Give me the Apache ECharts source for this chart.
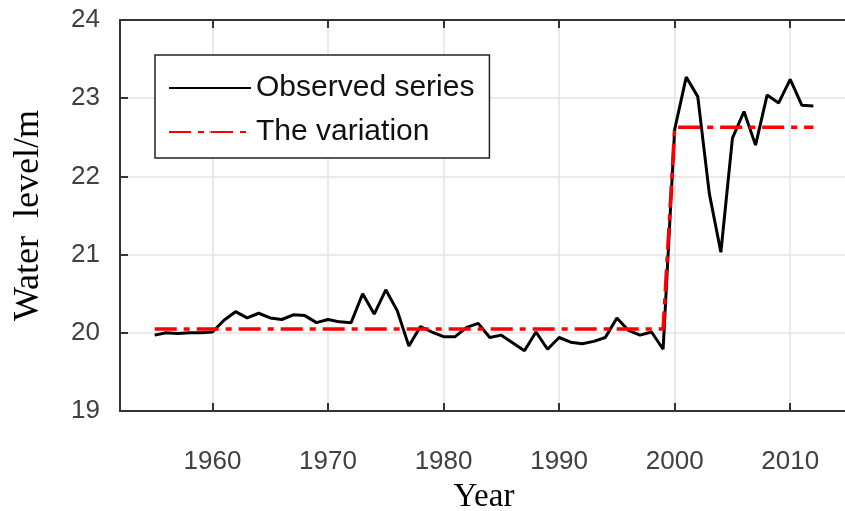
<!DOCTYPE html>
<html>
<head>
<meta charset="utf-8">
<script src="https://cdn.jsdelivr.net/npm/echarts@6/dist/echarts.min.js"></script>
<style>html,body{margin:0;padding:0;background:#fff}#c{width:845px;height:511px}</style>
</head>
<body>
<div id="c"></div>
<script>
const years = [1955,1956,1957,1958,1959,1960,1961,1962,1963,1964,1965,1966,1967,1968,1969,1970,1971,1972,1973,1974,1975,1976,1977,1978,1979,1980,1981,1982,1983,1984,1985,1986,1987,1988,1989,1990,1991,1992,1993,1994,1995,1996,1997,1998,1999,2000,2001,2002,2003,2004,2005,2006,2007,2008,2009,2010,2011,2012];
const observed = [19.97,20.0,19.99,20.0,20.0,20.01,20.16,20.27,20.19,20.25,20.19,20.17,20.23,20.22,20.13,20.17,20.14,20.13,20.5,20.24,20.55,20.28,19.83,20.08,20.01,19.95,19.95,20.07,20.12,19.94,19.97,19.87,19.77,20.01,19.79,19.94,19.88,19.86,19.89,19.94,20.19,20.03,19.97,20.01,19.79,22.6,23.27,23.02,21.78,21.03,22.49,22.83,22.4,23.04,22.94,23.24,22.91,22.9];
const variationYears = [1955,1999,2000,2012];
const variationValues = [20.05,20.05,22.63,22.63];
const xTicks = [1960,1970,1980,1990,2000,2010];
const seriesNames = ['Observed series','The variation'];

const obsData = years.map((y,i)=>[y,observed[i]]);
const varData = variationYears.map((y,i)=>[y,variationValues[i]]);

const chart = echarts.init(document.getElementById('c'));
const tickFont = {fontFamily:'Liberation Sans, Arial, sans-serif', fontSize:26, color:'#404040'};
chart.setOption({
  animation:false,
  backgroundColor:'#fff',
  grid:{left:120, top:20, width:728, height:391, containLabel:false, outerBoundsMode:'none'},
  legend:{
    left:155, top:55, orient:'vertical',
    padding:[18,15,11,13], itemGap:14, itemWidth:82, itemHeight:2,
    backgroundColor:'#fff', borderColor:'#222', borderWidth:1.5, borderRadius:0,
    textStyle:{fontFamily:'Liberation Sans, Arial, sans-serif', fontSize:30, color:'#111'},
    data:seriesNames
  },
  xAxis:[{
    type:'value', min:1952, max:2015, position:'bottom',
    name:'Year', nameLocation:'middle', nameGap:70,
    nameTextStyle:{fontFamily:'Liberation Serif, Times New Roman, serif', fontSize:33, color:'#000'},
    axisLine:{show:true, onZero:false, lineStyle:{color:'#333', width:2}},
    axisTick:{show:true, inside:true, length:8, customValues:xTicks, lineStyle:{color:'#333', width:2}},
    axisLabel:Object.assign({margin:38, customValues:xTicks, formatter:v=>String(v)}, tickFont),
    splitLine:{show:true, lineStyle:{color:'#e3e3e3', width:1.5}}
  },{
    type:'value', min:1952, max:2015, position:'top',
    axisLine:{show:true, onZero:false, lineStyle:{color:'#333', width:2}},
    axisTick:{show:true, inside:true, length:8, customValues:xTicks, lineStyle:{color:'#333', width:2}},
    axisLabel:{show:false}, splitLine:{show:false}
  }],
  yAxis:[{
    type:'value', min:19, max:24, interval:1,
    name:'Water  level/m', nameLocation:'middle', nameGap:73, nameRotate:90,
    nameTextStyle:{fontFamily:'Liberation Serif, Times New Roman, serif', fontSize:36, color:'#000'},
    axisLine:{show:true, onZero:false, lineStyle:{color:'#333', width:2}},
    axisTick:{show:true, inside:true, length:8, lineStyle:{color:'#333', width:2}},
    axisLabel:Object.assign({margin:20}, tickFont),
    splitLine:{show:true, lineStyle:{color:'#e3e3e3', width:1.5}}
  }],
  series:[{
    name:seriesNames[0], type:'line', data:obsData, symbol:'none',
    lineStyle:{color:'#000', width:3}, itemStyle:{color:'#000'}, z:3
  },{
    name:seriesNames[1], type:'line', data:varData, symbol:'none',
    lineStyle:{color:'#ff0000', width:3.5, type:[22,7,6,7]}, itemStyle:{color:'#ff0000'}, z:4
  }]
});
</script>
</body>
</html>
